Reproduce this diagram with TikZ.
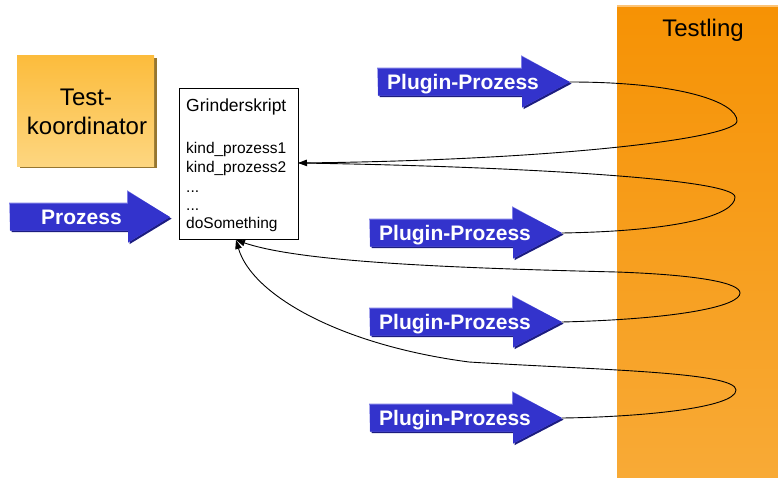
\documentclass[tikz,border=0pt]{standalone}
\usepackage{fontspec}
\setmainfont{Liberation Sans}
\usetikzlibrary{arrows.meta}

\definecolor{blockblue}{RGB}{51,51,204}
\definecolor{blockdark}{RGB}{28,28,128}
\definecolor{blocklight}{RGB}{125,125,230}
\definecolor{testtop}{RGB}{246,146,4}
\definecolor{testbot}{RGB}{248,170,54}
\definecolor{testedge}{RGB}{252,196,120}
\definecolor{kotop}{RGB}{252,188,60}
\definecolor{kobot}{RGB}{253,214,128}
\definecolor{koshadow}{RGB}{150,118,48}

\tikzset{
  blocktext/.style={text=white, font=\bfseries\fontsize{21}{24}\selectfont, inner sep=0pt, anchor=base},
  scripttext/.style={font=\fontsize{15.5}{18}\selectfont, inner sep=0pt, anchor=base west},
  loopline/.style={black, line width=0.9pt},
  tipped/.style={loopline, {Triangle[length=9pt,width=6.5pt]}-},
}

% block arrow: #1 name, #2 left x, #3 head start x, #4 tip x, #5 centre y, #6 text x, #7 text
\newcommand{\blockarrow}[7]{%
  \fill[blockdark] ({#2+1.6},{#5-13.5+1.6}) -- ({#3+1.6},{#5-13.5+1.6}) -- ({#3+1.6},{#5-25.5+1.6})
     -- ({#4+1.6},{#5+1.6}) -- ({#3+1.6},{#5+25.5+1.6}) -- ({#3+1.6},{#5+13.5+1.6}) -- ({#2+1.6},{#5+13.5+1.6}) -- cycle;
  \fill[blocklight] ({#2-0.8},{#5-13.5-0.8}) -- ({#3-0.8},{#5-13.5-0.8}) -- ({#3-0.8},{#5-25.5-1.2})
     -- ({#4-0.5},{#5}) -- ({#3},{#5+25.5}) -- ({#3},{#5+13.5}) -- ({#2},{#5+13.5}) -- cycle;
  \fill[blockblue] ({#2},{#5-13.5}) -- ({#3},{#5-13.5}) -- ({#3},{#5-25.5})
     -- ({#4},{#5}) -- ({#3},{#5+25.5}) -- ({#3},{#5+13.5}) -- ({#2},{#5+13.5}) -- cycle;
  \coordinate (#1tip) at ({#4},{#5});
  \node[blocktext] (#1) at ({#6},{#5+7.5}) {#7};
}

\begin{document}
\begin{tikzpicture}[x=1pt,y=-1pt]
\useasboundingbox (0,0) rectangle (778,479);

% system under test
\shade[top color=testtop, bottom color=testbot] (617,5) rectangle (778,477);
\fill[testedge] (617,5) rectangle (778,6.5);
\node[font=\fontsize{24}{27}\selectfont, inner sep=0pt, anchor=base] (testling) at (703,36) {Testling};

% test coordinator
\fill[koshadow] (19.5,57.5) rectangle (156.5,168);
\shade[top color=kotop, bottom color=kobot] (17,55) rectangle (154,166);
\node[inner sep=0pt, minimum width=137, minimum height=111] (ko) at (85.5,110.5) {};
\node[font=\fontsize{24}{28}\selectfont, inner sep=0pt, anchor=base] (ko1) at (86,105) {Test-};
\node[font=\fontsize{24}{28}\selectfont, inner sep=0pt, anchor=base] (ko2) at (87,134) {koordinator};

% grinder script
\node[draw=black, line width=0.8pt, fill=white, minimum width=119, minimum height=151, inner sep=0pt] (gs) at (238.5,163.5) {};
\node[font=\fontsize{17.5}{20}\selectfont, inner sep=0pt, anchor=base west] (gs0) at (186,111) {Grinderskript};
\node[scripttext] (gs1) at (186,153) {kind\_prozess1};
\node[scripttext] (gs2) at (186,172) {kind\_prozess2};
\node[scripttext] (gs3) at (186,192) {...};
\node[scripttext] (gs4) at (186,210) {...};
\node[scripttext] (gs5) at (186,228) {doSomething};

\coordinate (gsright) at (298,163);
\coordinate (gsbottom) at (236,240);

% process arrows
\blockarrow{pz}{10}{128}{170}{217}{81.5}{Prozess}
\blockarrow{pa}{378}{522}{570}{82}{463}{Plugin-Prozess}
\blockarrow{pb}{370}{513}{562}{233}{455}{Plugin-Prozess}
\blockarrow{pc}{370}{513}{562}{322}{455}{Plugin-Prozess}
\blockarrow{pd}{370}{513}{562}{418}{455}{Plugin-Prozess}

% loops through the system under test
\draw[tipped] (gsright) .. controls (560,160) and (737,138) .. (737,121)
  .. controls (737,102) and (680,82) .. (patip);
\draw[loopline] (gsright) .. controls (500,166) and (735,178) .. (735,197)
  .. controls (735,215) and (680,231) .. (pbtip);
\draw[tipped] (gsbottom) .. controls (300,262) and (450,268) .. (617,272)
  .. controls (700,275) and (740,283) .. (740,293)
  .. controls (740,306) and (680,319) .. (pctip);
\draw[tipped] (gsbottom) .. controls (252,295) and (340,345) .. (469,362)
  .. controls (600,370) and (736,372) .. (736,390)
  .. controls (736,408) and (640,417) .. (pdtip);
\end{tikzpicture}
\end{document}
